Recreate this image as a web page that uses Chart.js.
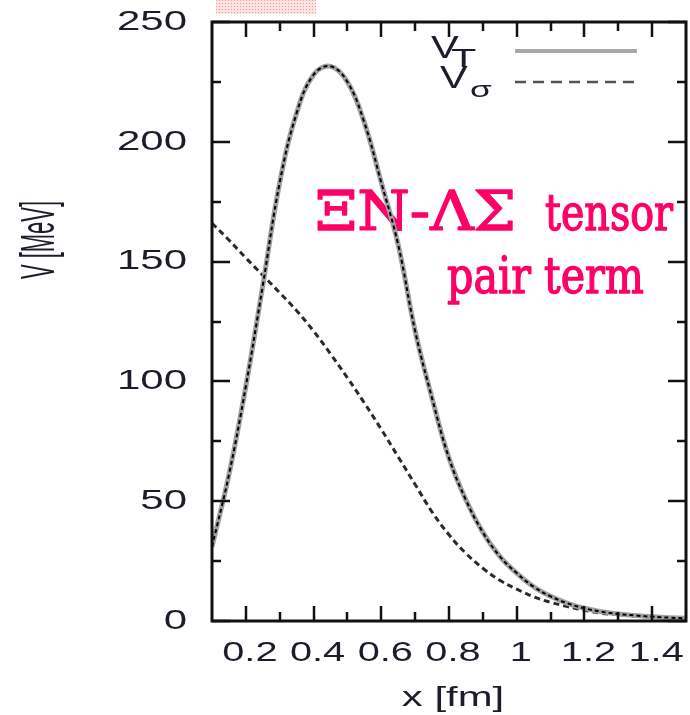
<!DOCTYPE html>
<html>
<head>
<meta charset="utf-8">
<script src="https://cdn.jsdelivr.net/npm/chart.js@4/dist/chart.umd.min.js"></script>
<style>
  html, body { margin: 0; padding: 0; background: #fff; }
  #wrap { width: 690px; height: 715px; }
</style>
</head>
<body>
<div id="wrap"><canvas id="chart" width="690" height="715"></canvas></div>
<script>
// x [fm] sample positions and the two potentials [MeV]
const xValues = [0.10, 0.15, 0.20, 0.25, 0.30, 0.35, 0.40, 0.45, 0.50, 0.55,
                 0.60, 0.65, 0.70, 0.75, 0.80, 0.85, 0.90, 0.95, 1.00, 1.05,
                 1.10, 1.15, 1.20, 1.25, 1.30, 1.35, 1.40, 1.45, 1.50];
const vTensor = [31, 61, 98, 140, 183, 212, 228, 231.5, 225, 208,
                 183, 157, 121, 93, 68, 50.5, 37, 27, 20, 14.3,
                 10.3, 7.4, 5.3, 3.9, 2.9, 2.3, 1.8, 1.4, 1.1];
const vSigma = [166, 159, 151.5, 144.3, 137, 129.5, 121, 111.5, 101.5, 91,
                80, 68.5, 57, 45.5, 36, 28.2, 22, 17, 13.3, 10.1,
                7.8, 6, 4.5, 3.2, 2.6, 2.0, 1.6, 1.2, 1.0];

const xTicks = [0.2, 0.4, 0.6, 0.8, 1.0, 1.2, 1.4];
const xTickLabels = ['0.2', '0.4', '0.6', '0.8', '1', '1.2', '1.4'];
const xMinorTicks = [0.3, 0.5, 0.7, 0.9, 1.1, 1.3];
const yTicks = [0, 50, 100, 150, 200, 250];
const yTickLabels = ['0', '50', '100', '150', '200', '250'];
const yMinorTicks = [25, 75, 125, 175, 225];

const SANS = '"Liberation Sans", Arial, sans-serif';
const SERIF = '"DejaVu Serif", "Liberation Serif", serif';
const PINK = '#ff0066';

function stretchedText(ctx, text, x, y, font, sx, align, baseline) {
  ctx.save();
  ctx.font = font;
  ctx.textAlign = align;
  ctx.textBaseline = baseline;
  ctx.translate(x, y);
  ctx.scale(sx, 1);
  ctx.fillText(text, 0, 0);
  ctx.restore();
}

// squeeze/stretch a string so it spans left..right, a little heavier
function fitText(ctx, text, left, right, baseY, font) {
  ctx.save();
  ctx.font = font;
  const w = ctx.measureText(text).width;
  ctx.translate(left, baseY);
  ctx.scale((right - left) / w, 1);
  ctx.textAlign = 'left';
  ctx.textBaseline = 'alphabetic';
  ctx.lineWidth = 1.4;
  ctx.lineJoin = 'round';
  ctx.fillText(text, 0, 0);
  ctx.strokeText(text, 0, 0);
  ctx.restore();
}

const decorations = {
  id: 'decorations',
  beforeDraw(chart) {
    const ctx = chart.ctx;
    // dotted pink patch at the top edge
    const pat = document.createElement('canvas');
    pat.width = 3; pat.height = 3;
    const p = pat.getContext('2d');
    p.fillStyle = '#fde3e3'; p.fillRect(0, 0, 3, 3);
    p.fillStyle = '#f29a9a'; p.fillRect(0, 0, 1, 1);
    ctx.save();
    ctx.fillStyle = ctx.createPattern(pat, 'repeat');
    ctx.fillRect(216, 0, 100, 14);
    ctx.restore();
  },
  beforeDatasetsDraw(chart) {
    const ctx = chart.ctx;
    ctx.save();
    ctx.fillStyle = PINK;
    ctx.strokeStyle = PINK;
    fitText(ctx, 'ΞN-ΛΣ', 315, 516, 230, '54px ' + SERIF);
    fitText(ctx, 'tensor', 545, 673, 230, '50px ' + SERIF);
    fitText(ctx, 'pair term', 447, 644, 293, '50px ' + SERIF);
    ctx.restore();
  },
  afterDatasetsDraw(chart) {
    const ctx = chart.ctx;
    const a = chart.chartArea;
    const xs = chart.scales.x, ys = chart.scales.y;
    ctx.save();
    ctx.strokeStyle = '#111';
    ctx.lineWidth = 2.5;
    ctx.beginPath();
    const tick = (x1, y1, x2, y2) => { ctx.moveTo(x1, y1); ctx.lineTo(x2, y2); };
    xTicks.forEach(v => {
      const px = Math.round(xs.getPixelForValue(v));
      tick(px, a.bottom, px, a.bottom - 15);
      tick(px, a.top, px, a.top + 15);
    });
    xMinorTicks.forEach(v => {
      const px = Math.round(xs.getPixelForValue(v));
      tick(px, a.bottom, px, a.bottom - 9);
      tick(px, a.top, px, a.top + 9);
    });
    yTicks.forEach(v => {
      const py = Math.round(ys.getPixelForValue(v));
      tick(a.left, py, a.left + 18, py);
      tick(a.right, py, a.right - 18, py);
    });
    yMinorTicks.forEach(v => {
      const py = Math.round(ys.getPixelForValue(v));
      tick(a.left, py, a.left + 9, py);
      tick(a.right, py, a.right - 9, py);
    });
    ctx.stroke();
    ctx.lineWidth = 3;
    ctx.strokeRect(a.left, a.top, a.right - a.left, a.bottom - a.top);
    ctx.restore();
  },
  afterDraw(chart) {
    const ctx = chart.ctx;
    const xs = chart.scales.x, ys = chart.scales.y;
    ctx.save();
    ctx.fillStyle = '#1c1c2a';
    // tick labels
    yTicks.forEach((v, i) => {
      stretchedText(ctx, yTickLabels[i], 187, ys.getPixelForValue(v), '28px ' + SANS, 1.5, 'right', 'middle');
    });
    xTicks.forEach((v, i) => {
      stretchedText(ctx, xTickLabels[i], xs.getPixelForValue(v) + 4, 661, '28px ' + SANS, 1.42, 'center', 'alphabetic');
    });
    // axis titles
    stretchedText(ctx, 'x [fm]', 453, 706, '27px ' + SANS, 1.55, 'center', 'alphabetic');
    ctx.save();
    ctx.translate(41, 240);
    ctx.scale(2.2, 1);
    ctx.rotate(-Math.PI / 2);
    ctx.font = '22px ' + SANS;
    ctx.textAlign = 'center';
    ctx.textBaseline = 'middle';
    ctx.fillText('V [MeV]', 0, 0);
    ctx.restore();

    // legend
    stretchedText(ctx, 'V', 431, 58, '32px ' + SANS, 1.3, 'left', 'alphabetic');
    stretchedText(ctx, 'T', 451, 67, '26px ' + SANS, 1.6, 'left', 'alphabetic');
    stretchedText(ctx, 'V', 440, 88, '32px ' + SANS, 1.3, 'left', 'alphabetic');
    stretchedText(ctx, 'σ', 470, 97, '22px ' + SANS, 1.6, 'left', 'alphabetic');
    ctx.lineWidth = 4;
    ctx.strokeStyle = '#a8a8a8';
    ctx.beginPath(); ctx.moveTo(515, 51); ctx.lineTo(637, 51); ctx.stroke();
    ctx.lineWidth = 2.5;
    ctx.strokeStyle = '#555';
    ctx.setLineDash([11, 7]);
    ctx.beginPath(); ctx.moveTo(515, 82); ctx.lineTo(637, 82); ctx.stroke();
    ctx.restore();
  }
};

const toPoints = ys => xValues.map((x, i) => ({ x: x, y: ys[i] }));

// Chart.js paints dataset 0 last, so the black dash overlay comes first
new Chart(document.getElementById('chart'), {
  type: 'line',
  data: {
    datasets: [
      { label: 'V_T overlay', data: toPoints(vTensor), borderColor: '#000', borderWidth: 2,
        borderDash: [4, 3], pointRadius: 0, tension: 0.4, fill: false },
      { label: 'V_T', data: toPoints(vTensor), borderColor: '#a0a0a0', borderWidth: 5,
        pointRadius: 0, tension: 0.4, fill: false },
      { label: 'V_sigma', data: toPoints(vSigma), borderColor: '#2a2a2a', borderWidth: 3,
        borderDash: [6, 4], pointRadius: 0, tension: 0.4, fill: false }
    ]
  },
  options: {
    responsive: false,
    animation: false,
    layout: { padding: { left: 212, right: 4, top: 22, bottom: 94 } },
    plugins: { legend: { display: false }, tooltip: { enabled: false } },
    scales: {
      x: { type: 'linear', min: 0.1, max: 1.5, display: false },
      y: { type: 'linear', min: 0, max: 250, display: false }
    }
  },
  plugins: [decorations]
});
</script>
</body>
</html>
